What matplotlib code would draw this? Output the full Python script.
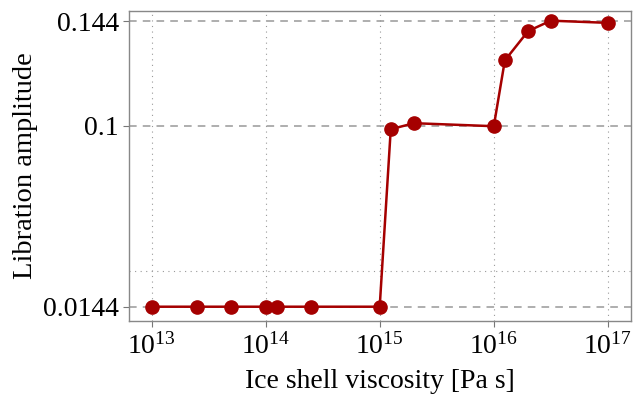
import numpy as np
import matplotlib.pyplot as plt
from matplotlib.ticker import FixedLocator, NullLocator

# viscosidad de la capa de hielo y amplitud de libración
viscosidad = [1e13, 2.5e13, 5e13, 1e14, 1.25e14, 2.5e14, 1e15,
              1.25e15, 2e15, 1e16, 1.25e16, 2e16, 3.16e16, 1e17]
amplitud = [0.0144, 0.0144, 0.0144, 0.0144, 0.0144, 0.0144, 0.0144,
            0.0985, 0.1011, 0.0998, 0.1278, 0.1400, 0.1443, 0.1434]

ticks_y = [0.0144, 0.1, 0.144]
etiquetas_y = ["0.0144", "0.1", "0.144"]
ticks_x = [1e13, 1e14, 1e15, 1e16, 1e17]

p = 1.135  # escala potencia del eje y

plt.rcParams['font.family'] = ['Liberation Serif', 'DejaVu Serif']
plt.rcParams['mathtext.fontset'] = 'custom'
plt.rcParams['mathtext.rm'] = 'Liberation Serif'
plt.rcParams['mathtext.it'] = 'Liberation Serif:italic'

fig = plt.figure(figsize=(6.33, 4.01), dpi=100)
ax = fig.add_axes([128.7 / 633, 1 - 320.7 / 401, 502 / 633, 310 / 401])

ax.set_xscale('log')
ax.set_yscale('function', functions=(lambda v: np.sign(v) * np.abs(v) ** p,
                                     lambda v: np.sign(v) * np.abs(v) ** (1 / p)))
ax.set_xlim(10 ** 12.8, 10 ** 17.2)
ax.set_ylim(0.00614, 0.1484)

gris = '#999999'
for t in ticks_x:
    ax.axvline(t, color=gris, lw=0.8, ls=(0, (1, 4)), zorder=1)
for t in ticks_y:
    ax.axhline(t, color=gris, lw=1.1, ls=(0, (5, 4)), zorder=1)
ax.axhline(0.033, color=gris, lw=0.8, ls=(0, (1, 4)), zorder=1)

ax.plot(viscosidad, amplitud, color='#a50000', lw=1.8, marker='o',
        markersize=9.5, zorder=3)

ax.xaxis.set_major_locator(FixedLocator(ticks_x))
ax.xaxis.set_minor_locator(NullLocator())
ax.set_xticklabels([r"$\mathrm{10}^{%d}$" % int(np.log10(t)) for t in ticks_x])
ax.yaxis.set_major_locator(FixedLocator(ticks_y))
ax.yaxis.set_minor_locator(NullLocator())
ax.set_yticklabels(etiquetas_y)

ax.tick_params(direction='out', length=4, width=0.8, color='#777777',
               labelsize=20, pad=3)
ax.tick_params(axis='x', pad=5)
for s in ax.spines.values():
    s.set_color('#888888')
    s.set_linewidth(1.0)

ax.set_xlabel("Ice shell viscosity [Pa s]", fontsize=20, labelpad=7)
ax.set_ylabel("Libration amplitude", fontsize=20.5, labelpad=4)

fig.savefig("out.png", dpi=100)
